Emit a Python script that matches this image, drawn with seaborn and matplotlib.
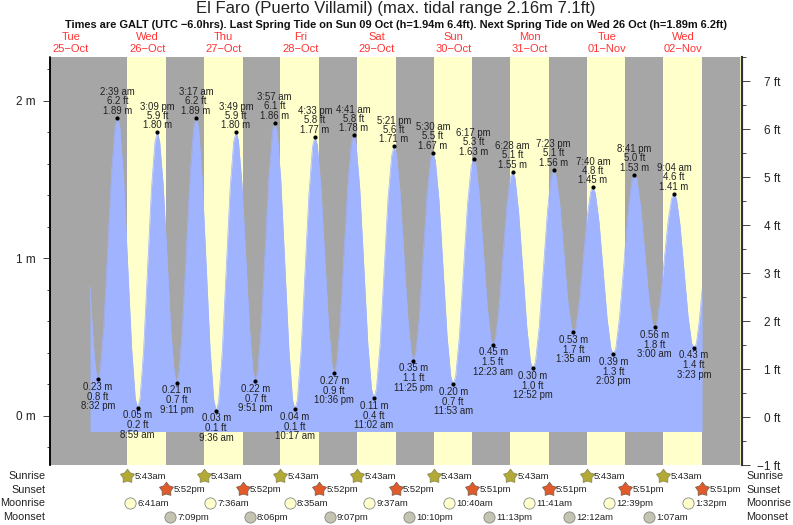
# tide chart for El Faro, hours are counted from 00:00 on 26-Oct
import matplotlib
matplotlib.use("Agg")
import matplotlib.pyplot as plt
from matplotlib.path import Path
from matplotlib.ticker import FixedLocator
import numpy as np
import seaborn as sns

day_names = ["Tue", "Wed", "Thu", "Fri", "Sat", "Sun", "Mon", "Tue", "Wed"]
day_dates = ["25−Oct", "26−Oct", "27−Oct", "28−Oct", "29−Oct", "30−Oct", "31−Oct", "01−Nov", "02−Nov"]
day_noons = [-12, 12, 36, 60, 84, 108, 132, 156, 180]

# high and low waters
tide_hours = [-3.47, 2.65, 8.98, 15.15, 21.18, 27.28, 33.6, 39.82, 45.85, 51.95, 58.28,
              64.55, 70.6, 76.68, 83.03, 89.35, 95.42, 101.5, 107.88, 114.28, 120.38,
              126.47, 132.87, 139.38, 145.58, 151.67, 158.05, 164.68, 171.0, 177.07, 183.38]
tide_m = [0.23, 1.89, 0.05, 1.80, 0.21, 1.89, 0.03, 1.80, 0.22, 1.86, 0.04,
          1.77, 0.27, 1.78, 0.11, 1.71, 0.35, 1.67, 0.20, 1.63, 0.45,
          1.55, 0.30, 1.56, 0.53, 1.45, 0.39, 1.53, 0.56, 1.41, 0.43]
tide_ft = ["0.8", "6.2", "0.2", "5.9", "0.7", "6.2", "0.1", "5.9", "0.7", "6.1", "0.1",
           "5.8", "0.9", "5.8", "0.4", "5.6", "1.1", "5.5", "0.7", "5.3", "1.5",
           "5.1", "1.0", "5.1", "1.7", "4.8", "1.3", "5.0", "1.8", "4.6", "1.4"]
tide_times = ["8:32 pm", "2:39 am", "8:59 am", "3:09 pm", "9:11 pm", "3:17 am", "9:36 am",
              "3:49 pm", "9:51 pm", "3:57 am", "10:17 am", "4:33 pm", "10:36 pm", "4:41 am",
              "11:02 am", "5:21 pm", "11:25 pm", "5:30 am", "11:53 am", "6:17 pm", "12:23 am",
              "6:28 am", "12:52 pm", "7:23 pm", "1:35 am", "7:40 am", "2:03 pm", "8:41 pm",
              "3:00 am", "9:04 am", "3:23 pm"]

# water level
curve_hours = [-5.96, -5.3, -4.6, -4.0, -3.47,
               -2.74, -1.63, -0.41, 0.81, 1.92, 2.65,
               3.41, 4.55, 5.82, 7.08, 8.22, 8.98,
               9.72, 10.83, 12.07, 13.30, 14.41, 15.15,
               15.87, 16.96, 18.17, 19.37, 20.46, 21.18,
               21.91, 23.01, 24.23, 25.45, 26.55, 27.28,
               28.04, 29.18, 30.44, 31.70, 32.84, 33.6,
               34.35, 35.47, 36.71, 37.95, 39.07, 39.82,
               40.54, 41.63, 42.84, 44.04, 45.13, 45.85,
               46.58, 47.68, 48.90, 50.12, 51.22, 51.95,
               52.71, 53.85, 55.12, 56.38, 57.52, 58.28,
               59.03, 60.16, 61.42, 62.67, 63.80, 64.55,
               65.28, 66.37, 67.58, 68.79, 69.87, 70.6,
               71.33, 72.42, 73.64, 74.86, 75.95, 76.68,
               77.44, 78.59, 79.86, 81.13, 82.27, 83.03,
               83.79, 84.93, 86.19, 87.45, 88.59, 89.35,
               90.08, 91.17, 92.39, 93.60, 94.69, 95.42,
               96.15, 97.24, 98.46, 99.68, 100.77, 101.5,
               102.27, 103.41, 104.69, 105.97, 107.11, 107.88,
               108.65, 109.80, 111.08, 112.36, 113.51, 114.28,
               115.01, 116.11, 117.33, 118.55, 119.65, 120.38,
               121.11, 122.21, 123.43, 124.64, 125.74, 126.47,
               127.24, 128.39, 129.67, 130.95, 132.10, 132.87,
               133.65, 134.82, 136.13, 137.43, 138.60, 139.38,
               140.12, 141.24, 142.48, 143.72, 144.84, 145.58,
               146.31, 147.41, 148.63, 149.84, 150.94, 151.67,
               152.44, 153.58, 154.86, 156.14, 157.28, 158.05,
               158.85, 160.04, 161.37, 162.69, 163.88, 164.68,
               165.44, 166.58, 167.84, 169.10, 170.24, 171.0,
               171.73, 172.82, 174.04, 175.25, 176.34, 177.07,
               177.83, 178.96, 180.23, 181.49, 182.62, 183.38,
               184.1, 185.0, 185.9]
curve_m = [0.82, 0.58, 0.37, 0.27, 0.23,
           0.29, 0.57, 1.06, 1.55, 1.83, 1.89,
           1.83, 1.51, 0.97, 0.43, 0.11, 0.05,
           0.11, 0.41, 0.93, 1.44, 1.74, 1.80,
           1.74, 1.47, 1.01, 0.54, 0.27, 0.21,
           0.27, 0.56, 1.05, 1.54, 1.83, 1.89,
           1.83, 1.51, 0.96, 0.41, 0.10, 0.03,
           0.09, 0.40, 0.92, 1.44, 1.74, 1.80,
           1.75, 1.48, 1.01, 0.55, 0.28, 0.22,
           0.28, 0.56, 1.04, 1.52, 1.80, 1.86,
           1.80, 1.49, 0.95, 0.42, 0.10, 0.04,
           0.10, 0.40, 0.91, 1.41, 1.71, 1.77,
           1.72, 1.46, 1.02, 0.58, 0.32, 0.27,
           0.32, 0.58, 1.03, 1.47, 1.73, 1.78,
           1.72, 1.44, 0.95, 0.45, 0.17, 0.11,
           0.17, 0.44, 0.91, 1.38, 1.65, 1.71,
           1.66, 1.43, 1.03, 0.63, 0.40, 0.35,
           0.40, 0.62, 1.01, 1.40, 1.62, 1.67,
           1.62, 1.37, 0.94, 0.50, 0.25, 0.20,
           0.25, 0.50, 0.92, 1.34, 1.58, 1.63,
           1.59, 1.39, 1.04, 0.69, 0.49, 0.45,
           0.49, 0.68, 1.00, 1.32, 1.51, 1.55,
           1.51, 1.29, 0.93, 0.56, 0.34, 0.30,
           0.34, 0.56, 0.93, 1.30, 1.52, 1.56,
           1.52, 1.35, 1.05, 0.74, 0.57, 0.53,
           0.56, 0.72, 0.99, 1.26, 1.42, 1.45,
           1.41, 1.23, 0.92, 0.61, 0.43, 0.39,
           0.43, 0.63, 0.96, 1.30, 1.49, 1.53,
           1.50, 1.33, 1.05, 0.76, 0.59, 0.56,
           0.59, 0.74, 0.99, 1.24, 1.38, 1.41,
           1.38, 1.21, 0.92, 0.63, 0.46, 0.43,
           0.46, 0.60, 0.80]
fill_floor = -0.1

sunrise_hours = [5.72, 29.72, 53.72, 77.72, 101.72, 125.72, 149.72, 173.72]
sunrise_labels = ["5:43am"] * 8
sunset_hours = [17.87, 41.87, 65.87, 89.87, 113.85, 137.85, 161.85, 185.85]
sunset_labels = ["5:52pm", "5:52pm", "5:52pm", "5:52pm", "5:51pm", "5:51pm", "5:51pm", "5:51pm"]
moonrise_hours = [6.68, 31.6, 56.58, 81.62, 106.67, 131.68, 156.65, 181.53]
moonrise_labels = ["6:41am", "7:36am", "8:35am", "9:37am", "10:40am", "11:41am", "12:39pm", "1:32pm"]
moonset_hours = [19.15, 44.1, 69.12, 94.17, 119.22, 144.2, 169.12]
moonset_labels = ["7:09pm", "8:06pm", "9:07pm", "10:10pm", "11:13pm", "12:12am", "1:07am"]

# the last daylight band just shows at the right edge
band_starts = sunrise_hours + [197.72]
band_ends = sunset_hours + [209.85]

W, H = 793, 525
PX = 0.72  # points per pixel at dpi 100
BLUE = "#9fb3ff"
GREY = "#a6a6a6"
YELLOW = "#ffffcc"
RED = "#ff3333"
INK = "#222222"

sns.set_style("white")
plt.rcParams["font.family"] = ["Liberation Sans", "DejaVu Sans"]

fig = plt.figure(figsize=(W / 100, H / 100), dpi=100)
left, right, top, bottom = 49.5, 742.0, 57.5, 465.0
ax = fig.add_axes([left / W, 1 - bottom / H, (right - left) / W, (bottom - top) / H])
ax.set_facecolor(GREY)
ax.set_xlim(-18.65, 198.4)
ax.set_ylim(-0.313, 2.274)

for start, end in zip(band_starts, band_ends):
    ax.axvspan(start, end, color=YELLOW, lw=0, zorder=1)

ax.fill_between(curve_hours, curve_m, fill_floor, color=BLUE, lw=0, zorder=2)
sns.lineplot(x=curve_hours, y=curve_m, ax=ax, color=BLUE, lw=0.5, sort=False,
             estimator=None, zorder=2)
sns.scatterplot(x=tide_hours, y=tide_m, ax=ax, color="black", s=9, linewidth=0, zorder=4)

# three line labels, above the high waters and below the low ones
for hour, m, ft, clock in zip(tide_hours, tide_m, tide_ft, tide_times):
    if m > 1:
        rows = [(f"{m:.2f} m", 7), (f"{ft} ft", 16.5), (clock, 25.5)]
    else:
        rows = [(f"{m:.2f} m", -7.5), (f"{ft} ft", -17.5), (clock, -27)]
    for text, dy in rows:
        ax.annotate(text, (hour, m), xytext=(0, dy * PX), textcoords="offset points",
                    ha="center", va="center", fontsize=6.9, color=INK, zorder=5)

# metres on the left
ax.yaxis.set_major_locator(FixedLocator([0, 1, 2]))
ax.yaxis.set_minor_locator(FixedLocator([-0.2, 0.2, 0.4, 0.6, 0.8, 1.2, 1.4, 1.6, 1.8, 2.2]))
ax.set_yticklabels(["0 m", "1 m", "2 m"], fontsize=8.5, color=INK)
ax.tick_params(axis="y", which="major", left=True, length=7 * PX, width=0.7, color="#444444", pad=5)
ax.tick_params(axis="y", which="minor", left=True, length=3 * PX, width=0.7, color="#444444")
ax.set_xticks([])
ax.set_ylabel("")

# feet on the right
ax_ft = ax.twinx()
ax_ft.set_ylim(-1, 7.5)
ax_ft.yaxis.set_major_locator(FixedLocator(np.arange(-1, 8)))
ax_ft.yaxis.set_minor_locator(FixedLocator(np.arange(-0.5, 7.6, 1)))
ax_ft.set_yticklabels(["−1 ft", "0 ft", "1 ft", "2 ft", "3 ft", "4 ft", "5 ft", "6 ft", "7 ft"],
                      fontsize=8.5, color=INK, ha="right")
ax_ft.tick_params(axis="y", which="major", right=True, length=8 * PX, width=0.7, color="#444444", pad=22)
ax_ft.tick_params(axis="y", which="minor", right=True, length=4 * PX, width=0.7, color="#444444")

for a in (ax, ax_ft):
    for side in ("top", "bottom"):
        a.spines[side].set_visible(False)
    a.spines["left"].set_linewidth(1.1)
    a.spines["left"].set_color("black")
    a.spines["right"].set_linewidth(1.5)
    a.spines["right"].set_color("#333333")

for name, date, noon in zip(day_names, day_dates, day_noons):
    ax.annotate(name, (noon, 1), xycoords=ax.get_xaxis_transform(), xytext=(0, 20.5 * PX),
                textcoords="offset points", ha="center", va="center", fontsize=8, color=RED)
    ax.annotate(date, (noon, 1), xycoords=ax.get_xaxis_transform(), xytext=(0, 8.5 * PX),
                textcoords="offset points", ha="center", va="center", fontsize=8, color=RED)

fig.text(396 / W, 1 - 9 / H, "El Faro (Puerto Villamil) (max. tidal range 2.16m 7.1ft)",
         ha="center", va="center", fontsize=12.0, color=INK)
fig.text(396 / W, 1 - 25 / H,
         "Times are GALT (UTC −6.0hrs). Last Spring Tide on Sun 09 Oct (h=1.94m 6.4ft). "
         "Next Spring Tide on Wed 26 Oct (h=1.89m 6.2ft)",
         ha="center", va="center", fontsize=7.9, fontweight="bold", color="#111111")

# sun and moon rows under the chart, y is in pixels here
ax_rows = fig.add_axes([left / W, 0, (right - left) / W, 1 - bottom / H])
ax_rows.set_xlim(ax.get_xlim())
ax_rows.set_ylim(H, bottom)
ax_rows.axis("off")

angles = np.pi / 2 + np.arange(10) * np.pi / 5
radii = np.where(np.arange(10) % 2 == 0, 1.0, 0.62)
star_xy = np.column_stack([radii * np.cos(angles), radii * np.sin(angles)])
star = Path(np.vstack([star_xy, star_xy[0]]), closed=True)

rows = [
    ("Sunrise", 475.7, sunrise_hours, sunrise_labels, star, 110, "#b3aa35", "#8c8a50"),
    ("Sunset", 489.3, sunset_hours, sunset_labels, star, 110, "#e2592a", "#80604a"),
    ("Moonrise", 503.0, moonrise_hours, moonrise_labels, "o", 65, "#ffffcc", "#888888"),
    ("Moonset", 516.7, moonset_hours, moonset_labels, "o", 65, "#c4c4b0", "#888888"),
]
for name, y, hours, labels, marker, size, face, edge in rows:
    sns.scatterplot(x=hours, y=[y] * len(hours), ax=ax_rows, marker=marker, s=size, color=face,
                    edgecolor=edge, linewidth=0.6, clip_on=False, zorder=3)
    for hour, label in zip(hours, labels):
        ax_rows.annotate(label, (hour, y), xytext=(7.3 * PX, -0.5 * PX), textcoords="offset points",
                         ha="left", va="center", fontsize=6.8, color=INK)
    fig.text(45.5 / W, 1 - (y + 0.5) / H, name, ha="right", va="center", fontsize=7.8, color=INK)
    fig.text(746.5 / W, 1 - (y + 0.5) / H, name, ha="left", va="center", fontsize=7.8, color=INK)
ax_rows.set_xlabel("")
ax_rows.set_ylabel("")

fig.savefig("out.png", dpi=100)
